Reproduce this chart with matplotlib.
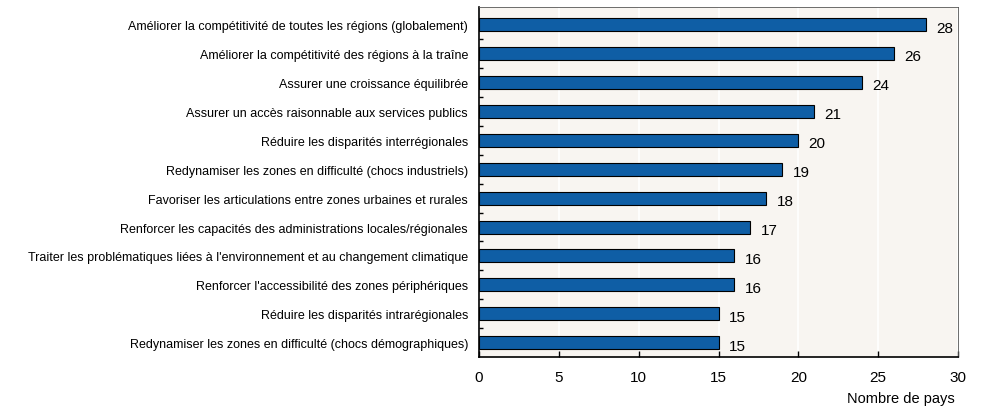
import matplotlib
matplotlib.use("Agg")
import matplotlib.pyplot as plt
from matplotlib import font_manager

labels = [
    "Améliorer la compétitivité de toutes les régions (globalement)",
    "Améliorer la compétitivité des régions à la traîne",
    "Assurer une croissance équilibrée",
    "Assurer un accès raisonnable aux services publics",
    "Réduire les disparités interrégionales",
    "Redynamiser les zones en difficulté (chocs industriels)",
    "Favoriser les articulations entre zones urbaines et rurales",
    "Renforcer les capacités des administrations locales/régionales",
    "Traiter les problématiques liées à l'environnement et au changement climatique",
    "Renforcer l'accessibilité des zones périphériques",
    "Réduire les disparités intrarégionales",
    "Redynamiser les zones en difficulté (chocs démographiques)",
]
values = [28, 26, 24, 21, 20, 19, 18, 17, 16, 16, 15, 15]
xticks = [0, 5, 10, 15, 20, 25, 30]

names = {f.name for f in font_manager.fontManager.ttflist}
fam = "Liberation Sans Narrow" if "Liberation Sans Narrow" in names else "Liberation Sans"
plt.rcParams["font.family"] = [fam, "DejaVu Sans"]
plt.rcParams["font.size"] = 9

fig = plt.figure(figsize=(10, 4.14), dpi=100)
ax = fig.add_axes([0.479, 0.135, 0.479, 0.845])
ax.set_facecolor("#f8f5f1")

y = list(range(len(values)))
ax.barh(y, values, height=0.45, color="#0f5ea5", edgecolor="black", linewidth=0.8, zorder=3)
for yi, v in zip(y, values):
    ax.text(v + 0.65, yi + 0.1, str(v), va="center", ha="left", fontsize=11)

ax.set_yticks(y)
ax.set_yticklabels(labels)
ax.set_ylim(len(values) - 0.5, -0.6)
ax.set_yticks([i + 0.5 for i in range(len(values) - 1)], minor=True)
ax.tick_params(axis="y", which="major", length=0, pad=8)
ax.tick_params(axis="y", which="minor", length=3, direction="in", width=1)

ax.set_xlim(0, 30)
ax.set_xticks(xticks)
ax.tick_params(axis="x", direction="in", length=4, width=1, pad=9, labelsize=11)
ax.grid(axis="x", color="white", linewidth=1.2, zorder=1)

for s in ["left", "bottom"]:
    ax.spines[s].set_linewidth(1.2)
for s in ["top", "right"]:
    ax.spines[s].set_linewidth(0.6)
    ax.spines[s].set_color("#555555")

fig.text(0.955, 0.037, "Nombre de pays", ha="right", va="center", fontsize=10.5)

fig.savefig("out.png", dpi=100)
